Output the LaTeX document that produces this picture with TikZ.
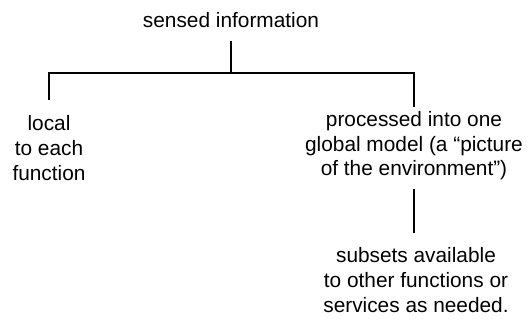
\documentclass[tikz,border=0pt]{standalone}
\usepackage{fontspec}
\setmainfont{Liberation Sans}
\usetikzlibrary{positioning}

\begin{document}
\begin{tikzpicture}[
    x=0.48pt, y=-0.48pt,
    txt/.style={inner sep=0pt, align=center, font=\fontsize{10}{11.8}\selectfont},
    link/.style={line width=0.5pt}
]
    \useasboundingbox (0,0) rectangle (531,320);

    % Source
    \node[txt] (sensed) at (231,20) {sensed information};
    \coordinate (fork) at (231,73);

    % Branches
    \node[txt] (local) at (49,148) {local\\to each\\function};
    \node[txt] (global) at (414,146) {processed into one\\global model (a “picture\\of the environment”)};
    \node[txt] (subsets) at (416,280) {subsets available\\to other functions or\\services as needed.};

    % Lines
    \draw[link, shorten <=6.2pt] (sensed) -- (fork);
    \draw[link, shorten >=7.5pt] (fork) -| (local);
    \draw[link, shorten >=2pt] (fork) -| (global);
    \draw[link, shorten <=4pt, shorten >=7pt] (global.south) -- (global.south |- subsets.north);
\end{tikzpicture}
\end{document}
